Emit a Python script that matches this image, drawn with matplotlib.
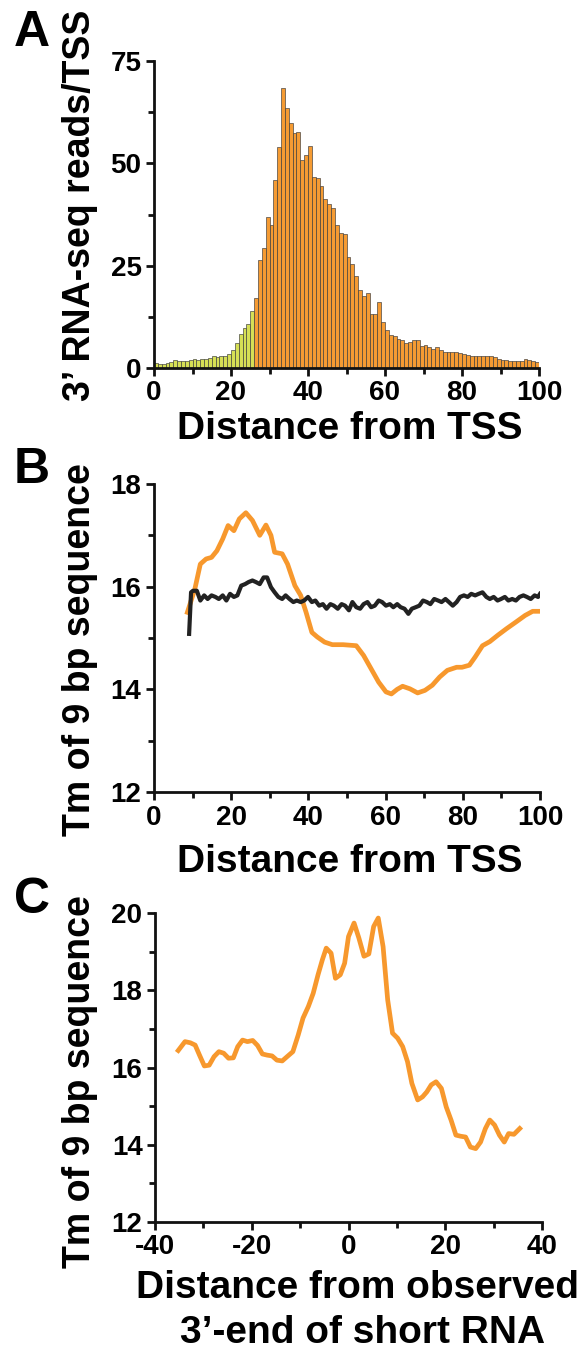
import matplotlib
matplotlib.use("Agg")
import matplotlib.pyplot as plt
from matplotlib.ticker import MultipleLocator

plt.rcParams["font.family"] = ["Liberation Sans", "DejaVu Sans"]
plt.rcParams["font.weight"] = "bold"
plt.rcParams["axes.unicode_minus"] = False

# Panel A: 3' RNA-seq reads per TSS, one bar per nucleotide position (0..100)
reads_pos = list(range(0, 100))
reads_per_tss = [
    1.2, 0.9, 0.9, 1.2, 1.5, 1.9, 1.6, 1.7, 1.6, 1.9,
    2.1, 1.9, 2.1, 2.3, 2.5, 2.9, 2.7, 3.0, 3.0, 3.3,
    4.5, 6.1, 8.4, 9.8, 10.8, 13.9, 17.0, 26.3, 29.2, 36.8,
    35.0, 45.9, 54.0, 68.3, 63.4, 59.9, 57.5, 57.7, 50.8, 52.0,
    54.3, 46.7, 46.5, 44.4, 41.2, 40.0, 39.2, 34.9, 33.0, 32.8,
    27.1, 25.3, 22.4, 19.0, 17.6, 18.3, 13.3, 13.3, 16.1, 11.2,
    9.2, 8.0, 7.7, 7.0, 6.8, 6.1, 6.4, 6.8, 6.9, 5.3,
    5.5, 5.1, 4.7, 5.1, 4.5, 3.9, 3.9, 4.0, 3.9, 3.7,
    3.5, 3.2, 2.9, 2.9, 2.9, 2.9, 3.0, 2.9, 2.7, 2.3,
    2.0, 2.0, 1.7, 1.6, 1.6, 1.6, 2.1, 1.9, 1.7, 1.5,
]
n_upstream = 26  # first bars drawn in lime

# Panel B: Tm of 9 bp sequence vs distance from TSS
tm_obs_x = [8.65, 10.6, 12.0, 13.5, 14.9, 16.3, 17.8, 19.2, 20.7, 22.1,
            23.8, 25.5, 27.4, 29.0, 30.3, 31.25, 33.2, 34.6, 36.5, 38.0,
            39.4, 40.9, 42.3, 44.2, 46.2, 49.0, 52.4, 54.3, 56.25, 58.2,
            60.1, 61.5, 63.0, 64.4, 66.3, 68.3, 70.2, 72.1, 74.0, 76.0,
            78.4, 79.8, 81.7, 83.2, 85.1, 87.0, 89.0, 91.3, 93.75, 96.15,
            98.1, 100.0]
tm_obs_y = [15.50, 15.96, 16.44, 16.54, 16.57, 16.70, 16.93, 17.19, 17.09, 17.32,
            17.44, 17.29, 17.00, 17.20, 17.00, 16.67, 16.64, 16.44, 16.02, 15.83,
            15.50, 15.11, 15.02, 14.92, 14.87, 14.87, 14.85, 14.66, 14.40, 14.14,
            13.95, 13.91, 14.00, 14.06, 14.01, 13.93, 13.98, 14.08, 14.24, 14.37,
            14.43, 14.43, 14.47, 14.63, 14.85, 14.93, 15.05, 15.18, 15.31, 15.44,
            15.52, 15.52]

tm_ctrl_x = [9.1, 9.6, 10.1, 11.1, 12.0, 13.0, 13.9, 14.9, 15.9, 16.8,
             17.8, 18.75, 19.7, 20.7, 21.6, 22.6, 23.6, 24.5, 25.5, 26.4,
             27.4, 28.4, 29.3, 30.3, 31.25, 32.2, 33.2, 34.1, 35.1, 36.1,
             37.0, 38.0, 38.9, 39.9, 40.9, 41.8, 42.8, 43.75, 44.7, 45.7,
             46.6, 47.6, 48.6, 49.5, 50.5, 51.4, 52.4, 53.4, 54.3, 55.3,
             56.25, 57.2, 58.2, 59.1, 60.1, 61.1, 62.0, 63.0, 63.9, 64.9,
             65.9, 66.8, 67.8, 68.75, 69.7, 70.7, 71.6, 72.6, 73.6, 74.5,
             75.5, 76.4, 77.4, 78.4, 79.3, 80.3, 81.25, 82.2, 83.2, 84.1,
             85.1, 86.1, 87.0, 88.0, 89.0, 89.9, 90.9, 91.8, 92.8, 93.75,
             94.7, 95.7, 96.6, 97.6, 98.6, 99.5, 100.0]
tm_ctrl_y = [15.08, 15.89, 15.92, 15.92, 15.73, 15.83, 15.76, 15.83, 15.80, 15.76,
             15.83, 15.73, 15.86, 15.80, 15.83, 16.02, 16.05, 16.09, 16.12, 16.09,
             16.05, 16.18, 16.18, 15.99, 15.89, 15.80, 15.76, 15.83, 15.76, 15.70,
             15.73, 15.70, 15.73, 15.80, 15.70, 15.73, 15.63, 15.66, 15.57, 15.66,
             15.63, 15.57, 15.66, 15.63, 15.54, 15.70, 15.60, 15.57, 15.66, 15.70,
             15.60, 15.63, 15.73, 15.70, 15.63, 15.66, 15.60, 15.66, 15.60, 15.57,
             15.47, 15.57, 15.60, 15.63, 15.73, 15.70, 15.66, 15.76, 15.73, 15.70,
             15.76, 15.70, 15.63, 15.70, 15.80, 15.83, 15.80, 15.86, 15.83, 15.86,
             15.89, 15.80, 15.76, 15.80, 15.73, 15.76, 15.80, 15.73, 15.76, 15.73,
             15.80, 15.83, 15.80, 15.76, 15.83, 15.80, 15.86]

# Panel C: Tm around observed 3'-end of short RNA
end_x = [-35.2, -33.8, -32.7, -31.7, -30.8, -29.8, -28.8, -27.8, -26.8, -25.8,
         -24.8, -23.8, -22.9, -21.9, -20.9, -19.8, -18.8, -17.8, -16.8, -15.8,
         -14.8, -13.7, -12.7, -11.5, -10.4, -9.4, -8.3, -7.3, -6.3, -5.4,
         -4.6, -3.6, -2.7, -1.7, -0.8, 0.0, 1.15, 2.15, 3.2, 4.2,
         5.2, 6.15, 7.15, 8.1, 9.1, 10.15, 11.2, 12.2, 13.1, 14.3,
         15.3, 16.2, 17.1, 18.1, 19.2, 20.2, 21.2, 22.2, 23.2, 24.2,
         25.2, 26.3, 27.3, 28.3, 29.2, 30.2, 31.2, 32.2, 33.1, 34.2,
         35.4]
end_tm = [16.44, 16.67, 16.64, 16.58, 16.32, 16.04, 16.06, 16.28, 16.41, 16.37,
          16.24, 16.25, 16.54, 16.71, 16.67, 16.70, 16.57, 16.35, 16.32, 16.30,
          16.19, 16.17, 16.28, 16.41, 16.84, 17.28, 17.58, 17.92, 18.40, 18.79,
          19.09, 18.96, 18.31, 18.40, 18.70, 19.39, 19.74, 19.35, 18.88, 18.94,
          19.65, 19.87, 19.13, 17.75, 16.89, 16.76, 16.54, 16.15, 15.59, 15.16,
          15.24, 15.37, 15.55, 15.63, 15.46, 14.98, 14.64, 14.25, 14.22, 14.20,
          13.94, 13.90, 14.07, 14.42, 14.64, 14.51, 14.25, 14.07, 14.29, 14.27,
          14.42]

ORANGE = "#f7982d"
LIME = "#d6df55"
BAR_ORANGE = "#f59b33"
W, H = 581, 1349


def style_axes(ax):
    for side in ("top", "right"):
        ax.spines[side].set_visible(False)
    for side in ("left", "bottom"):
        ax.spines[side].set_linewidth(2.0)
        ax.spines[side].set_color("#111111")
    ax.tick_params(which="major", direction="out", length=6, width=2, labelsize=20, pad=3,
                   color="#111111")
    ax.tick_params(which="minor", direction="out", length=4, width=2, color="#111111")
    for lab in ax.get_xticklabels() + ax.get_yticklabels():
        lab.set_fontweight("bold")


def px_axes(left, right, top, bottom):
    return fig.add_axes([left / W, 1 - bottom / H, (right - left) / W, (bottom - top) / H])


fig = plt.figure(figsize=(W / 100, H / 100), dpi=100)

# ---- A
axA = px_axes(154, 539, 61, 368)
colors = [LIME if i < n_upstream else BAR_ORANGE for i in range(len(reads_pos))]
axA.bar(reads_pos, reads_per_tss, width=1.0, align="edge", color=colors,
        edgecolor="#3a3a3a", linewidth=0.45)
axA.set_xlim(0, 100)
axA.set_ylim(0, 75)
axA.xaxis.set_major_locator(MultipleLocator(20))
axA.xaxis.set_minor_locator(MultipleLocator(10))
axA.yaxis.set_major_locator(MultipleLocator(25))
axA.yaxis.set_minor_locator(MultipleLocator(12.5))
style_axes(axA)

# ---- B
axB = px_axes(154, 540, 484, 792)
axB.plot(tm_obs_x, tm_obs_y, color=ORANGE, linewidth=3.4, solid_joinstyle="round")
axB.plot(tm_ctrl_x, tm_ctrl_y, color="#222222", linewidth=3.0, solid_joinstyle="round")
axB.set_xlim(0, 100)
axB.set_ylim(12, 18)
axB.xaxis.set_major_locator(MultipleLocator(20))
axB.xaxis.set_minor_locator(MultipleLocator(10))
axB.yaxis.set_major_locator(MultipleLocator(2))
axB.yaxis.set_minor_locator(MultipleLocator(1))
style_axes(axB)

# ---- C
axC = px_axes(155, 542, 913, 1222)
axC.plot(end_x, end_tm, color=ORANGE, linewidth=3.4, solid_joinstyle="round")
axC.set_xlim(-40, 40)
axC.set_ylim(12, 20)
axC.xaxis.set_major_locator(MultipleLocator(20))
axC.xaxis.set_minor_locator(MultipleLocator(10))
axC.yaxis.set_major_locator(MultipleLocator(2))
axC.yaxis.set_minor_locator(MultipleLocator(1))
style_axes(axC)


def ftext(x, y, s, **kw):
    fig.text(x / W, 1 - y / H, s, fontweight="bold", **kw)


# panel letters
ftext(32, 46, "A", fontsize=36, ha="center", va="baseline")
ftext(32, 483, "B", fontsize=36, ha="center", va="baseline")
ftext(32, 913, "C", fontsize=36, ha="center", va="baseline")

# y labels
ftext(80, 205, "3\u2019 RNA-seq reads/TSS", fontsize=27, rotation=90, ha="center", va="center")
ftext(80, 650, "Tm of 9 bp sequence", fontsize=27, rotation=90, ha="center", va="center")
ftext(80, 1082, "Tm of 9 bp sequence", fontsize=27, rotation=90, ha="center", va="center")

# x labels
ftext(350, 439, "Distance from TSS", fontsize=28, ha="center", va="baseline")
ftext(350, 872, "Distance from TSS", fontsize=28, ha="center", va="baseline")
ftext(357, 1298, "Distance from observed", fontsize=28, ha="center", va="baseline")
ftext(363, 1343, "3\u2019-end of short RNA", fontsize=28, ha="center", va="baseline")

fig.savefig("out.png", dpi=100)
